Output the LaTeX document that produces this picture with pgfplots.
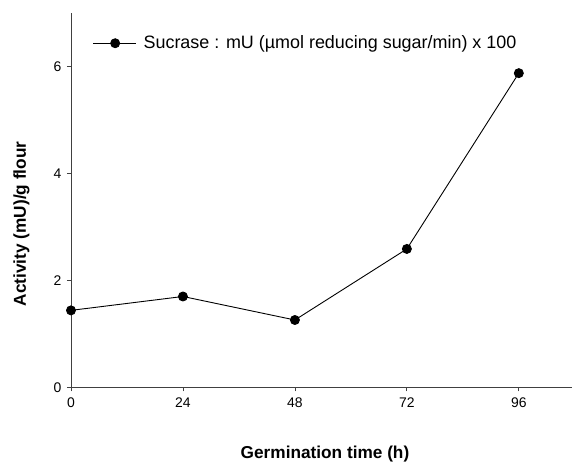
\documentclass[border=0pt]{standalone}
\usepackage{pgfplots}
\pgfplotsset{compat=1.18}
\usepackage{fontspec}
\setmainfont{Liberation Sans}
\begin{document}
\begin{tikzpicture}[x=1bp,y=1bp]
\begin{axis}[
  name=ax,
  scale only axis,
  width=501bp, height=374bp,
  xmin=0, xmax=107.4,
  ymin=0, ymax=7,
  axis x line*=bottom,
  axis y line*=left,
  axis line style={black!75, line width=0.9bp},
  xtick={0,24,48,72,96},
  ytick={0,2,4,6},
  tick align=outside,
  major tick length=4bp,
  tick style={black!75, line width=0.8bp},
  every tick label/.append style={font=\fontsize{14}{16}\selectfont, text=black},
  /pgf/number format/assume math mode=true,
  xticklabel style={yshift=-3bp},
  yticklabel style={xshift=-2bp},
  xlabel={\textbf{Germination time (h)}},
  ylabel={\textbf{Activity (mU)/g flour}},
  label style={font=\fontsize{17.3}{20}\selectfont},
  xlabel style={at={(axis description cs:0.507,-0.178)}, anchor=center},
  ylabel style={at={(axis description cs:-0.0988,0.437)}, anchor=center},
  clip=false,
  legend style={at={(axis description cs:0.037,0.92)}, anchor=west, draw=none, fill=none,
    font=\fontsize{18}{21}\selectfont, nodes={inner xsep=7bp}},
  legend cell align=left,
  legend image code/.code={
    \draw[mark repeat=2,mark phase=2] plot coordinates {(0bp,0bp) (22bp,0bp) (43bp,0bp)};
  },
]
\addplot[black, line width=0.9bp, mark=*, mark size=4.5bp, mark options={fill=black}]
  coordinates {(0,1.44) (24,1.70) (48,1.26) (72,2.59) (96,5.88)};
\addlegendentry{Sucrase : mU (µmol reducing sugar/min) x 100}
\coordinate (bl) at (axis description cs:-0.1417,-0.205);
\coordinate (tr) at (axis description cs:1,1.0356);
\end{axis}
\pgfresetboundingbox
\useasboundingbox (bl) rectangle (tr);
\end{tikzpicture}
\end{document}
